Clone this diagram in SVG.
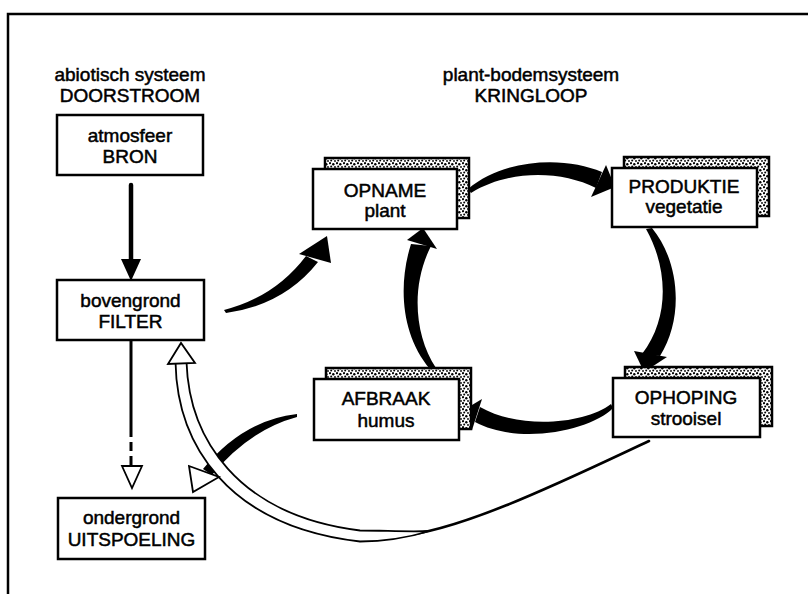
<svg xmlns="http://www.w3.org/2000/svg" width="808" height="594" viewBox="0 0 808 594">
<style>
.t{font-family:"Liberation Sans",Arial,Helvetica,sans-serif;font-size:19px;text-anchor:middle;fill:#000;stroke:#000;stroke-width:0.5px}
.box{fill:#fff;stroke:#000;stroke-width:2.5}
.back{fill:url(#stip);stroke:#000;stroke-width:2.5}
.blk{fill:#000;stroke:none}
.hol{fill:#fff;stroke:#000;stroke-width:1.8;stroke-linejoin:miter}
.frame{fill:none;stroke:#000;stroke-width:2.5}
</style>
<defs>
<pattern id="stip" width="7" height="6" patternUnits="userSpaceOnUse">
<rect width="7" height="6" fill="#fff"/>
<circle cx="1" cy="1.2" r="1.1" fill="#000"/>
<circle cx="4.3" cy="2.2" r="1.2" fill="#000"/>
<circle cx="2.2" cy="4.6" r="1.0" fill="#000"/>
<circle cx="6" cy="5" r="0.9" fill="#000"/>
</pattern>
</defs>
<rect width="808" height="594" fill="#fff"/>
<path class="frame" d="M 8 594 V 14 H 808"/>

<g id="titles">
<text class="t" x="130" y="81">abiotisch systeem</text>
<text class="t" x="130" y="102">DOORSTROOM</text>
<text class="t" x="531" y="81">plant-bodemsysteem</text>
<text class="t" x="531" y="102">KRINGLOOP</text>
</g>

<g id="connectors">
<line x1="131" y1="185" x2="131" y2="262" stroke="#000" stroke-width="4.5" stroke-linecap="round"/>
<path class="blk" d="M 121 259 L 141 259 L 131 281 Z"/>
<line x1="131" y1="340" x2="131" y2="428" stroke="#000" stroke-width="3"/>
<line x1="131" y1="428" x2="131" y2="466" stroke="#000" stroke-width="3" stroke-dasharray="9 5"/>
<path class="hol" d="M 122 466 L 142 466 L 132 488 Z"/>
<path class="blk" d="M 224 310 Q 275 297 306 256 L 318 262 Q 284 305 226 313 Z"/>
<path class="blk" d="M 299 254 L 327 236 L 331 263 Z"/>
<path class="blk" d="M 468 189 C 505 158 565 156 602 172 L 596 188 C 560 170 508 170 471 193 Z"/>
<path class="blk" d="M 606 165 L 615 187 L 591 197 Z"/>
<path class="blk" d="M 652 228 C 680 262 684 318 660 356 L 642 354 C 670 318 668 268 646 229 Z"/>
<path class="blk" d="M 634 351 L 667 357 L 644 372 Z"/>
<path class="blk" d="M 611 404 C 585 424 520 430 480 407 L 475 422 C 520 446 592 430 613 408 Z"/>
<path class="blk" d="M 482 399 L 462 411 L 472 430 Z"/>
<path class="blk" d="M 430 369 C 401 335 398 285 411 244 L 431 246 C 411 285 414 335 436 368 Z"/>
<path class="blk" d="M 407 240 L 423 228 L 437 249 Z"/>
<path class="blk" d="M 297 414 Q 243 420 203 469 L 212 475 Q 249 430 297 417 Z"/>
<path d="M 398 536 C 460 532 570 478 649 441" fill="none" stroke="#000" stroke-width="2.6" stroke-linecap="round"/>
<path class="hol" d="M 175.5 362 C 177 443 226 526 360 541.5 C 385 541.5 410 537 430 531 C 408 532 385 530.5 360 530.5 C 236 515 189 437 186.5 362 Z"/>
<path class="hol" d="M 168 364 L 181 343 L 195 363 Z"/>
<path class="hol" d="M 189 466 L 219 477 L 193 492 Z"/>
</g>

<g id="bron">
<rect class="box" x="57" y="115" width="146" height="60"/>
<text class="t" x="130" y="142">atmosfeer</text>
<text class="t" x="130" y="163">BRON</text>
</g>
<g id="filter">
<rect class="box" x="57" y="280" width="147" height="60"/>
<text class="t" x="130.5" y="307">bovengrond</text>
<text class="t" x="130.5" y="328">FILTER</text>
</g>
<g id="uitspoeling">
<rect class="box" x="58" y="498" width="147" height="61"/>
<text class="t" x="131.5" y="524">ondergrond</text>
<text class="t" x="131.5" y="546">UITSPOELING</text>
</g>
<g id="opname">
<rect class="back" x="325" y="158" width="144" height="60"/>
<rect class="box" x="313" y="169" width="144" height="60"/>
<text class="t" x="385" y="197">OPNAME</text>
<text class="t" x="385" y="217">plant</text>
</g>
<g id="produktie">
<rect class="back" x="624" y="157" width="145" height="59"/>
<rect class="box" x="612" y="168" width="145" height="59"/>
<text class="t" x="684" y="193">PRODUKTIE</text>
<text class="t" x="684" y="213">vegetatie</text>
</g>
<g id="afbraak">
<rect class="back" x="326" y="368" width="145" height="61"/>
<rect class="box" x="314" y="379" width="145" height="61"/>
<text class="t" x="386" y="405">AFBRAAK</text>
<text class="t" x="386" y="427">humus</text>
</g>
<g id="ophoping">
<rect class="back" x="625" y="367" width="147" height="59"/>
<rect class="box" x="613" y="378" width="147" height="59"/>
<text class="t" x="686" y="404">OPHOPING</text>
<text class="t" x="686" y="425">strooisel</text>
</g>
</svg>
